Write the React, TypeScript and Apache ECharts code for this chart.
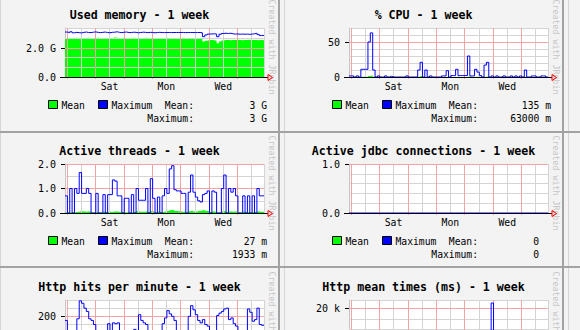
import React, { useEffect, useRef } from "react";
import * as echarts from "echarts";

// ---------- time axis (hours since start of the week window) ----------
const HOURS = 168;
const STEP = 2;
const dayNames = ["Sat", "Mon", "Wed"];
const dayLabelHours = [37.6, 85.6, 133.6];
const midnightHours = [1.6, 25.6, 49.6, 73.6, 97.6, 121.6, 145.6];
const noonHours = [13.6, 37.6, 61.6, 85.6, 109.6, 133.6, 157.6];

// ---------- Used memory (G) ----------
const memMean = [
  2.64, 2.66, 2.68, 2.66, 2.70, 2.68, 2.66, 2.69, 2.67, 2.70, 2.68, 2.66,
  2.69, 2.71, 2.68, 2.67, 2.70, 2.68, 2.66, 2.69, 2.72, 2.70, 2.67, 2.69,
  2.70, 2.68, 2.66, 2.68, 2.70, 2.69, 2.67, 2.66, 2.68, 2.70, 2.69, 2.67,
  2.68, 2.66, 2.68, 2.69, 2.67, 2.68, 2.70, 2.68, 2.67, 2.69, 2.68, 2.66,
  2.68, 2.70, 2.69, 2.67, 2.68, 2.69, 2.67, 2.68, 2.66, 2.64, 2.45, 2.50,
  2.53, 2.55, 2.54, 2.50, 2.32, 2.45, 2.52, 2.55, 2.56, 2.54, 2.56, 2.55,
  2.57, 2.55, 2.54, 2.56, 2.55, 2.57, 2.56, 2.55, 2.56, 2.54, 2.55, 2.53,
];
const memMax = [
  3.10, 3.06, 3.12, 3.05, 3.08, 3.06, 3.04, 3.08, 3.10, 3.07, 3.06, 3.09,
  3.11, 3.08, 3.06, 3.08, 3.10, 3.07, 3.05, 3.08, 3.09, 3.12, 3.08, 3.06,
  3.09, 3.10, 3.07, 3.06, 3.09, 3.08, 3.05, 3.07, 3.09, 3.08, 3.06, 3.08,
  3.07, 3.05, 3.07, 3.08, 3.07, 3.06, 3.07, 3.07, 3.06, 3.07, 3.07, 3.07,
  3.07, 3.07, 3.06, 3.07, 3.07, 3.07, 3.06, 3.07, 3.07, 3.05, 2.78, 2.90,
  2.96, 2.97, 2.98, 2.96, 2.78, 2.95, 3.00, 3.02, 3.00, 3.02, 2.98, 2.96,
  2.97, 2.95, 2.96, 2.95, 2.96, 2.94, 2.96, 2.98, 3.02, 2.94, 2.86, 2.86,
];
const memYValues = [0, 2];
const memYLabels = ["0.0", "2.0 G"];
const memMajor = [2];
const memMinor = [0.667, 1.333, 2.667];

// ---------- % CPU ----------
const cpuMean = [
  0.1, 0.1, 0, 0.1, 0, 0.4, 0.5, 0.4, 1.5, 2, 0.3, 0,
  0.1, 0, 0, 0.1, 0, 0.1, 0, 0, 0, 0, 0, 0,
  0.1, 0, 0, 0, 0, 0.3, 1.5, 0, 0.3, 0, 0.1, 0,
  0, 0, 0, 0.1, 0.1, 0.3, 0, 0.1, 0.1, 0.4, 0.1, 0.1,
  0.1, 0.1, 0.8, 0.1, 0.1, 0.4, 0.3, 0.1, 0, 0.5, 0.6, 0,
  0.1, 0, 0.1, 0, 0, 0.1, 0, 0, 0.1, 0, 0.1, 0,
  0.1, 0, 0.3, 0, 0, 0.1, 0.1, 0, 0, 0.1, 0.1, 0,
];
const cpuMax = [
  1.5, 1.5, 0, 1.5, 0, 11, 11, 11, 50, 63, 10, 0,
  1.5, 0, 0, 1.5, 0, 1, 0, 0, 0, 0, 0, 0,
  1.5, 0, 0, 0, 0, 10, 21, 0, 10, 0, 1.5, 0,
  0, 0, 0, 1.5, 1.5, 9, 0, 2, 2, 11, 2, 2,
  2, 2, 30, 1.5, 1.5, 11, 7, 2, 0, 17, 21, 0,
  1.5, 0, 1.5, 0, 0, 1.5, 0, 0, 1.5, 0, 1.5, 0,
  1.5, 0, 10, 0, 0, 1.5, 1.5, 0, 0, 1.5, 1.5, 0,
];
const cpuYValues = [0, 50];
const cpuYLabels = ["0", "50"];
const cpuMajor = [50];
const cpuMinor = [10, 20, 30, 40, 60];

// ---------- Active threads ----------
const threadsMean = [
  0.02, 0.01, 0.03, 0.02, 0.04, 0.05, 0.07, 0.06, 0.05, 0.06, 0.05, 0.02,
  0.02, 0.04, 0.02, 0.01, 0.05, 0.03, 0.05, 0.04, 0.06, 0.06, 0.05, 0.04,
  0.02, 0.03, 0.03, 0.02, 0.04, 0.03, 0.06, 0.05, 0.05, 0.05, 0.07, 0.03,
  0.07, 0.05, 0.02, 0.05, 0.03, 0.05, 0.07, 0.08, 0.11, 0.13, 0.08, 0.07,
  0.06, 0.05, 0.05, 0.02, 0.07, 0.09, 0.06, 0.05, 0.08, 0.10, 0.12, 0.08,
  0.07, 0.03, 0.06, 0.05, 0.02, 0.02, 0.06, 0.08, 0.03, 0.06, 0.05, 0.06,
  0.05, 0.02, 0.02, 0.05, 0.03, 0.05, 0.03, 0.05, 0.03, 0.06, 0.05, 0.05,
];
const threadsMax = [
  0.7, 0, 1.0, 0, 1.0, 0.8, 1.65, 0.8, 0.8, 1.0, 0.8, 0,
  0, 0.8, 0, 0, 0.75, 0, 0.75, 0.75, 1.35, 1.3, 0.7, 0.7,
  0, 0.6, 0.6, 0, 0.75, 0, 1.0, 0.52, 0.52, 0.52, 1.0, 0,
  1.4, 0.6, 0, 0.65, 0, 0.7, 1.0, 0.8, 1.8, 1.93, 0.95, 0.9,
  0.9, 0.8, 0.8, 0, 0.85, 1.55, 0.85, 0.65, 0.5, 0.45, 0.75, 0.8,
  0.9, 0, 0.9, 0.85, 0, 0, 1.0, 1.55, 0, 1.0, 0.85, 1.0,
  0.7, 0, 0, 0.7, 0, 0.7, 0, 0.7, 0, 1.0, 0.7, 0.7,
];
const threadsYValues = [0, 1, 2];
const threadsYLabels = ["0.0", "1.0", "2.0"];
const threadsMajor = [1, 2];
const threadsMinor = [0.5, 1.5];

// ---------- Active jdbc connections ----------
const jdbcMean = [
  0, 0, 0, 0, 0, 0, 0, 0, 0, 0, 0, 0,
  0, 0, 0, 0, 0, 0, 0, 0, 0, 0, 0, 0,
  0, 0, 0, 0, 0, 0, 0, 0, 0, 0, 0, 0,
  0, 0, 0, 0, 0, 0, 0, 0, 0, 0, 0, 0,
  0, 0, 0, 0, 0, 0, 0, 0, 0, 0, 0, 0,
  0, 0, 0, 0, 0, 0, 0, 0, 0, 0, 0, 0,
  0, 0, 0, 0, 0, 0, 0, 0, 0, 0, 0, 0,
];
const jdbcMax = [
  0, 0, 0, 0, 0, 0, 0, 0, 0, 0, 0, 0,
  0, 0, 0, 0, 0, 0, 0, 0, 0, 0, 0, 0,
  0, 0, 0, 0, 0, 0, 0, 0, 0, 0, 0, 0,
  0, 0, 0, 0, 0, 0, 0, 0, 0, 0, 0, 0,
  0, 0, 0, 0, 0, 0, 0, 0, 0, 0, 0, 0,
  0, 0, 0, 0, 0, 0, 0, 0, 0, 0, 0, 0,
  0, 0, 0, 0, 0, 0, 0, 0, 0, 0, 0, 0,
];
const jdbcYValues = [0, 1];
const jdbcYLabels = ["0.0", "1.0"];
const jdbcMajor = [1];
const jdbcMinor = [0.2, 0.4, 0.6, 0.8];

// ---------- Http hits per minute ----------
const hitsMean = [
  70, 40, 35, 38, 42, 75, 105, 100, 95, 90, 78, 72,
  62, 45, 38, 33, 30, 40, 65, 45, 68, 66, 68, 42,
  35, 30, 28, 33, 40, 52, 46, 88, 74, 68, 64, 45,
  38, 30, 28, 35, 42, 66, 80, 98, 90, 85, 74, 48,
  40, 35, 33, 40, 85, 108, 100, 88, 74, 68, 76, 64,
  60, 45, 38, 42, 86, 92, 96, 102, 104, 76, 80, 66,
  60, 45, 35, 33, 42, 102, 95, 72, 76, 104, 64, 62,
];
const hitsMax = [
  175, 90, 80, 85, 95, 185, 295, 280, 250, 230, 185, 175,
  150, 100, 85, 75, 70, 90, 155, 100, 160, 155, 160, 95,
  80, 70, 65, 75, 90, 120, 105, 210, 175, 160, 150, 100,
  85, 70, 65, 80, 95, 155, 190, 235, 215, 200, 175, 110,
  90, 80, 75, 90, 200, 265, 240, 210, 175, 160, 180, 150,
  140, 100, 85, 95, 205, 220, 230, 245, 250, 180, 190, 155,
  140, 100, 80, 75, 95, 245, 225, 170, 180, 250, 150, 145,
];
// only the tick label that falls inside the visible window
const hitsYValues = [200];
const hitsYLabels = ["200"];
const hitsMajor = [200];
const hitsMinor = [50, 100, 150, 250];

// ---------- Http mean times (ms) ----------
const timesMean = [
  300, 400, 250, 500, 220, 650, 600, 420, 800, 950, 450, 300,
  350, 260, 200, 550, 300, 420, 700, 330, 520, 600, 400, 230,
  260, 200, 300, 230, 450, 780, 600, 400, 520, 420, 330, 260,
  230, 300, 200, 360, 480, 720, 580, 840, 640, 520, 420, 300,
  260, 230, 600, 400, 450, 760, 550, 480, 360, 880, 660, 420,
  5200, 300, 400, 330, 550, 700, 480, 820, 600, 450, 520, 360,
  420, 260, 300, 230, 400, 660, 580, 450, 520, 720, 400, 330,
];
const timesMax = [
  900, 1200, 800, 1500, 700, 2100, 1800, 1300, 2600, 3100, 1400, 900,
  1100, 800, 600, 1700, 900, 1300, 2200, 1000, 1600, 1900, 1200, 700,
  800, 600, 900, 700, 1400, 2500, 1900, 1200, 1600, 1300, 1000, 800,
  700, 900, 600, 1100, 1500, 2300, 1800, 2700, 2000, 1600, 1300, 900,
  800, 700, 1900, 1200, 1400, 2400, 1700, 1500, 1100, 2800, 2100, 1300,
  22800, 900, 1200, 1000, 1700, 2200, 1500, 2600, 1900, 1400, 1600, 1100,
  1300, 800, 900, 700, 1200, 2100, 1800, 1400, 1600, 2300, 1200, 1000,
];
const timesYValues = [20000];
const timesYLabels = ["20 k"];
const timesMajor = [20000];
const timesMinor = [5000, 10000, 15000];

// ---------- styling ----------
const FONT = '"DejaVu Sans Mono", "Liberation Mono", monospace';
const PINK = "#f2a4a4";
const GRAY = "#d4d4d4";
const GREEN = "#00ff00";
const BLUE = "#0000ff";
const BG = "#f3f3f3";

const COL_X = [0, 284, 568];
const ROW_Y = [-1, 135, 271];

type Panel = {
  title: string;
  col: number;
  row: number;
  yMax: number;
  yValues: number[];
  yLabels: string[];
  major: number[];
  minor: number[];
  mean: number[];
  max: number[];
  stats?: [string, string];
  statRight?: number;
};

const panels: Panel[] = [
  { title: "Used memory - 1 week", col: 0, row: 0, yMax: 3.38, yValues: memYValues, yLabels: memYLabels, major: memMajor, minor: memMinor, mean: memMean, max: memMax, stats: ["3 G", "3 G"], statRight: 267 },
  { title: "% CPU - 1 week", col: 1, row: 0, yMax: 70, yValues: cpuYValues, yLabels: cpuYLabels, major: cpuMajor, minor: cpuMinor, mean: cpuMean, max: cpuMax, stats: ["135 m", "63000 m"], statRight: 267 },
  { title: "Active threads - 1 week", col: 0, row: 1, yMax: 2, yValues: threadsYValues, yLabels: threadsYLabels, major: threadsMajor, minor: threadsMinor, mean: threadsMean, max: threadsMax, stats: ["27 m", "1933 m"], statRight: 267 },
  { title: "Active jdbc connections - 1 week", col: 1, row: 1, yMax: 1, yValues: jdbcYValues, yLabels: jdbcYLabels, major: jdbcMajor, minor: jdbcMinor, mean: jdbcMean, max: jdbcMax, stats: ["0", "0"], statRight: 255 },
  { title: "Http hits per minute - 1 week", col: 0, row: 2, yMax: 300, yValues: hitsYValues, yLabels: hitsYLabels, major: hitsMajor, minor: hitsMinor, mean: hitsMean, max: hitsMax },
  { title: "Http mean times (ms) - 1 week", col: 1, row: 2, yMax: 24300, yValues: timesYValues, yLabels: timesYLabels, major: timesMajor, minor: timesMinor, mean: timesMean, max: timesMax },
];

function pairs(values: number[]) {
  const out: number[][] = values.map((v, i) => [i * STEP, v]);
  out.push([HOURS, values[values.length - 1]]);
  return out;
}

function txt(x: number, y: number, text: string, font: string, align: string, fill = "#000", extra: any = {}) {
  return {
    type: "text",
    x,
    y,
    ...extra,
    style: { text, font, fill, textAlign: align, textVerticalAlign: "middle", align, verticalAlign: "middle" },
  };
}

function buildOption() {
  const grid: any[] = [];
  const xAxis: any[] = [];
  const yAxis: any[] = [];
  const series: any[] = [];
  const graphic: any[] = [];

  // frames
  [0.5, 284.5, 568.5].forEach((x) =>
    graphic.push({ type: "line", shape: { x1: x, y1: 0, x2: x, y2: 330 }, style: { stroke: "#d6d6d6", lineWidth: 1 }, silent: true })
  );
  [278, 562].forEach((x) =>
    graphic.push({ type: "rect", shape: { x, y: 0, width: 2, height: 330 }, style: { fill: "#a2a2a2" }, silent: true })
  );
  [131, 266].forEach((y) =>
    graphic.push({ type: "rect", shape: { x: 0, y, width: 580, height: 2 }, style: { fill: "#a2a2a2" }, silent: true })
  );

  panels.forEach((p, i) => {
    const ox = COL_X[p.col];
    const oy = ROW_Y[p.row];
    const visibleBottom = p.row < 2;
    grid.push({
      left: ox + 65,
      top: oy + 29,
      width: 199,
      height: 49,
      show: true,
      backgroundColor: "#ffffff",
      borderWidth: 0,
      containLabel: false,
      outerBoundsMode: "none",
    });
    xAxis.push({
      type: "value",
      gridIndex: i,
      min: 0,
      max: HOURS,
      axisLine: { show: false },
      splitLine: { show: false },
      axisTick: { show: visibleBottom, customValues: midnightHours, length: 2, lineStyle: { color: PINK } },
      axisLabel: {
        show: visibleBottom,
        customValues: dayLabelHours,
        margin: 4,
        fontFamily: FONT,
        fontSize: 9.8,
        color: "#000",
        formatter: (v: number) => {
          const k = dayLabelHours.findIndex((h) => Math.abs(h - v) < 0.01);
          return k >= 0 ? dayNames[k] : "";
        },
      },
    });
    yAxis.push({
      type: "value",
      gridIndex: i,
      min: 0,
      max: p.yMax,
      splitLine: { show: false },
      axisLine: { show: true, lineStyle: { color: "#c4c4c4" } },
      axisTick: { show: true, customValues: p.yValues, length: 4, lineStyle: { color: "#000" } },
      axisLabel: {
        show: true,
        customValues: p.yValues,
        margin: 9,
        fontFamily: FONT,
        fontSize: 10,
        color: "#000",
        formatter: (v: number) => {
          const k = p.yValues.findIndex((h) => Math.abs(h - v) < 1e-6);
          return k >= 0 ? p.yLabels[k] : "";
        },
      },
    });

    const lines: any[] = [];
    noonHours.forEach((h) => lines.push({ xAxis: h, lineStyle: { color: GRAY } }));
    lines.push({ xAxis: HOURS, lineStyle: { color: GRAY } });
    p.minor.forEach((v) => lines.push({ yAxis: v, lineStyle: { color: GRAY } }));
    if (!p.major.includes(p.yMax)) lines.push({ yAxis: p.yMax, lineStyle: { color: GRAY } });
    midnightHours.forEach((h) => lines.push({ xAxis: h, lineStyle: { color: PINK } }));
    p.major.forEach((v) => lines.push({ yAxis: v, lineStyle: { color: PINK } }));

    series.push({
      type: "line",
      name: "Mean",
      xAxisIndex: i,
      yAxisIndex: i,
      data: pairs(p.mean),
      step: "end",
      symbol: "none",
      showSymbol: false,
      silent: true,
      z: 1,
      lineStyle: { width: 0, color: GREEN },
      itemStyle: { color: GREEN },
      areaStyle: { color: GREEN, opacity: 1 },
    });
    series.push({
      type: "line",
      xAxisIndex: i,
      yAxisIndex: i,
      data: [],
      silent: true,
      z: 2,
      markLine: {
        silent: true,
        animation: false,
        symbol: ["none", "none"],
        label: { show: false },
        emphasis: { disabled: true },
        lineStyle: { type: "solid", width: 1 },
        data: lines,
      },
    });
    series.push({
      type: "line",
      name: "Maximum",
      xAxisIndex: i,
      yAxisIndex: i,
      data: pairs(p.max),
      step: "end",
      symbol: "none",
      showSymbol: false,
      silent: true,
      z: 10,
      lineStyle: { width: 1, color: BLUE },
      itemStyle: { color: BLUE },
    });

    // title + watermark
    graphic.push(txt(ox + 139.5, oy + 16, p.title, `bold 11.6px ${FONT}`, "center"));
    graphic.push(txt(ox + 271.5, oy + 48, "Created with JRobin", `8.3px ${FONT}`, "center", "#c6c6c6", { rotation: -Math.PI / 2 }));
    // x axis line + arrow
    graphic.push({ type: "line", z: 100, silent: true, shape: { x1: ox + 60, y1: oy + 78.5, x2: ox + 268, y2: oy + 78.5 }, style: { stroke: "#000", lineWidth: 1 } });
    graphic.push({
      type: "polygon",
      z: 101,
      silent: true,
      shape: { points: [[ox + 268, oy + 75.5], [ox + 272.5, oy + 78.5], [ox + 268, oy + 81.5]] },
      style: { fill: "none", stroke: "#ff0000", lineWidth: 1 },
    });

    if (p.stats) {
      const f = `9.7px ${FONT}`;
      graphic.push({ type: "rect", silent: true, shape: { x: ox + 48.5, y: oy + 101.5, width: 9, height: 8 }, style: { fill: GREEN, stroke: "#000", lineWidth: 1 } });
      graphic.push(txt(ox + 61.5, oy + 106, "Mean", f, "left"));
      graphic.push({ type: "rect", silent: true, shape: { x: ox + 98.5, y: oy + 101.5, width: 9, height: 8 }, style: { fill: BLUE, stroke: "#000", lineWidth: 1 } });
      graphic.push(txt(ox + 111.5, oy + 106, "Maximum", f, "left"));
      graphic.push(txt(ox + 194, oy + 106, "Mean:", f, "right"));
      graphic.push(txt(ox + (p.statRight || 267), oy + 106, p.stats[0], f, "right"));
      graphic.push(txt(ox + 194, oy + 119.3, "Maximum:", f, "right"));
      graphic.push(txt(ox + (p.statRight || 267), oy + 119.3, p.stats[1], f, "right"));
    }
  });

  return {
    animation: false,
    backgroundColor: BG,
    grid,
    xAxis,
    yAxis,
    series,
    graphic: { elements: graphic },
  };
}

export default function App() {
  const ref = useRef<HTMLDivElement>(null);
  useEffect(() => {
    if (!ref.current) return;
    const chart = echarts.init(ref.current, undefined, { renderer: "svg", width: 580, height: 330 });
    chart.setOption(buildOption() as any);
    return () => chart.dispose();
  }, []);
  return <div ref={ref} style={{ position: "fixed", left: 0, top: 0, width: 580, height: 330 }} />;
}
